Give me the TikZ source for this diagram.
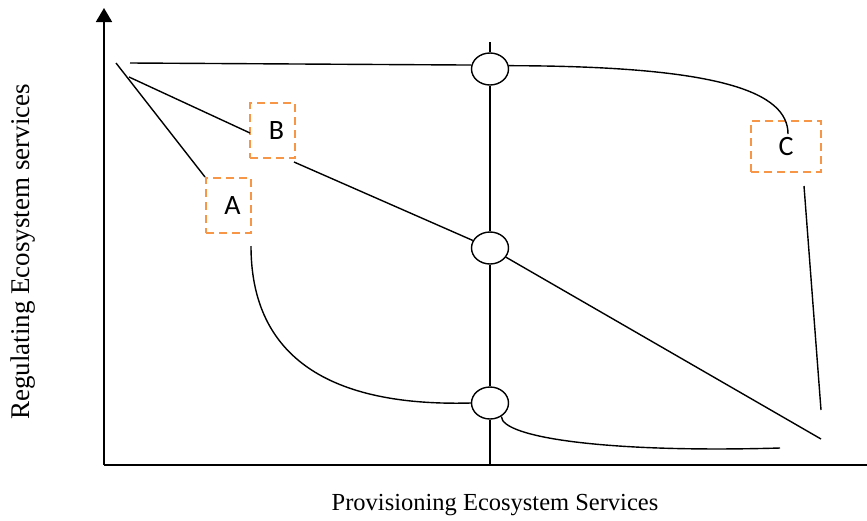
\documentclass[tikz,border=0pt]{standalone}
\usepackage{fontspec}
\setmainfont{Liberation Serif}
\newfontfamily\boxfont{Carlito}
\usetikzlibrary{arrows.meta,shapes.geometric}
\definecolor{boxorange}{RGB}{247,150,70}
\begin{document}
\begin{tikzpicture}[x=1pt,y=-1pt,
  line/.style={line width=1.4pt,black},
  axis/.style={line width=1.8pt,black},
  ell/.style={ellipse,draw,line width=1.4pt,minimum width=37pt,minimum height=32pt,inner sep=0pt},
  dbox/.style={draw=boxorange,line width=2pt,dash pattern=on 8pt off 5pt,minimum width=45pt,minimum height=55pt,inner sep=0pt,font=\boxfont\fontsize{28}{30}\selectfont},
  axlabel/.style={font=\fontsize{24.5}{28}\selectfont}]
\useasboundingbox (0,0) rectangle (867,520);
% axes
\coordinate (O) at (104,465);
\coordinate (ytop) at (104,8);
\coordinate (xend) at (881,465);
\draw[axis,-{Triangle[length=14pt,width=16pt]}] (O) -- (ytop);
\draw[axis,-{Triangle[length=14pt,width=16pt]}] (O) -- (xend);
\node[axlabel,font=\fontsize{27}{30}\selectfont,rotate=90] (ylab) at (23,252) {Regulating Ecosystem services};
\node[axlabel] (xlab) at (495,505) {Provisioning Ecosystem Services};
% ellipses
\node[ell] (e1) at (490,69) {};
\node[ell] (e2) at (490,248) {};
\node[ell] (e3) at (490,403) {};
% boxes
\node[dbox] (A) at (228.5,205.5) {\hspace*{8pt}A};
\node[dbox] (B) at (272.5,130.5) {\hspace*{8pt}B};
\node[dbox,minimum width=70pt,minimum height=51pt] (C) at (786,146.5) {C};
% vertical line
\coordinate (vtop) at (490,42);
\coordinate (vbot) at (490,465);
\draw[line] (vtop) -- (e1.north);
\draw[line] (e1.south) -- (e2.north);
\draw[line] (e2.south) -- (e3.north);
\draw[line] (e3.south) -- (vbot);
% top horizontal line and curve to C
\coordinate (t0) at (130,63);
\draw[line] (t0) -- (e1.168);
\coordinate (cTop) at (788,134);
\draw[line] (e1.10) .. controls (720,66) and (788,92) .. (cTop);
% line to A
\coordinate (a0) at (116,63);
\draw[line] (a0) -- (A.north west);
% line through B and e2
\coordinate (b0) at (129,77);
\coordinate (bIn) at (250,133);
\draw[line] (b0) -- (bIn);
\coordinate (bOut) at (294,162);
\draw[line] (bOut) -- (e2);
\coordinate (dEnd) at (821,439);
\draw[line] (e2) -- (dEnd);
% curve from A to e3
\coordinate (aBot) at (251,246);
\draw[line] (aBot) .. controls (251,350) and (320,407) .. (e3.west);
% bottom curve
\coordinate (bEnd) at (780,448);
\draw[line] (e3.-50) .. controls (502,438) and (610,453) .. (bEnd);
% line from C
\coordinate (c0) at (804,186);
\coordinate (c1) at (821,410);
\draw[line] (c0) -- (c1);
\end{tikzpicture}
\end{document}
